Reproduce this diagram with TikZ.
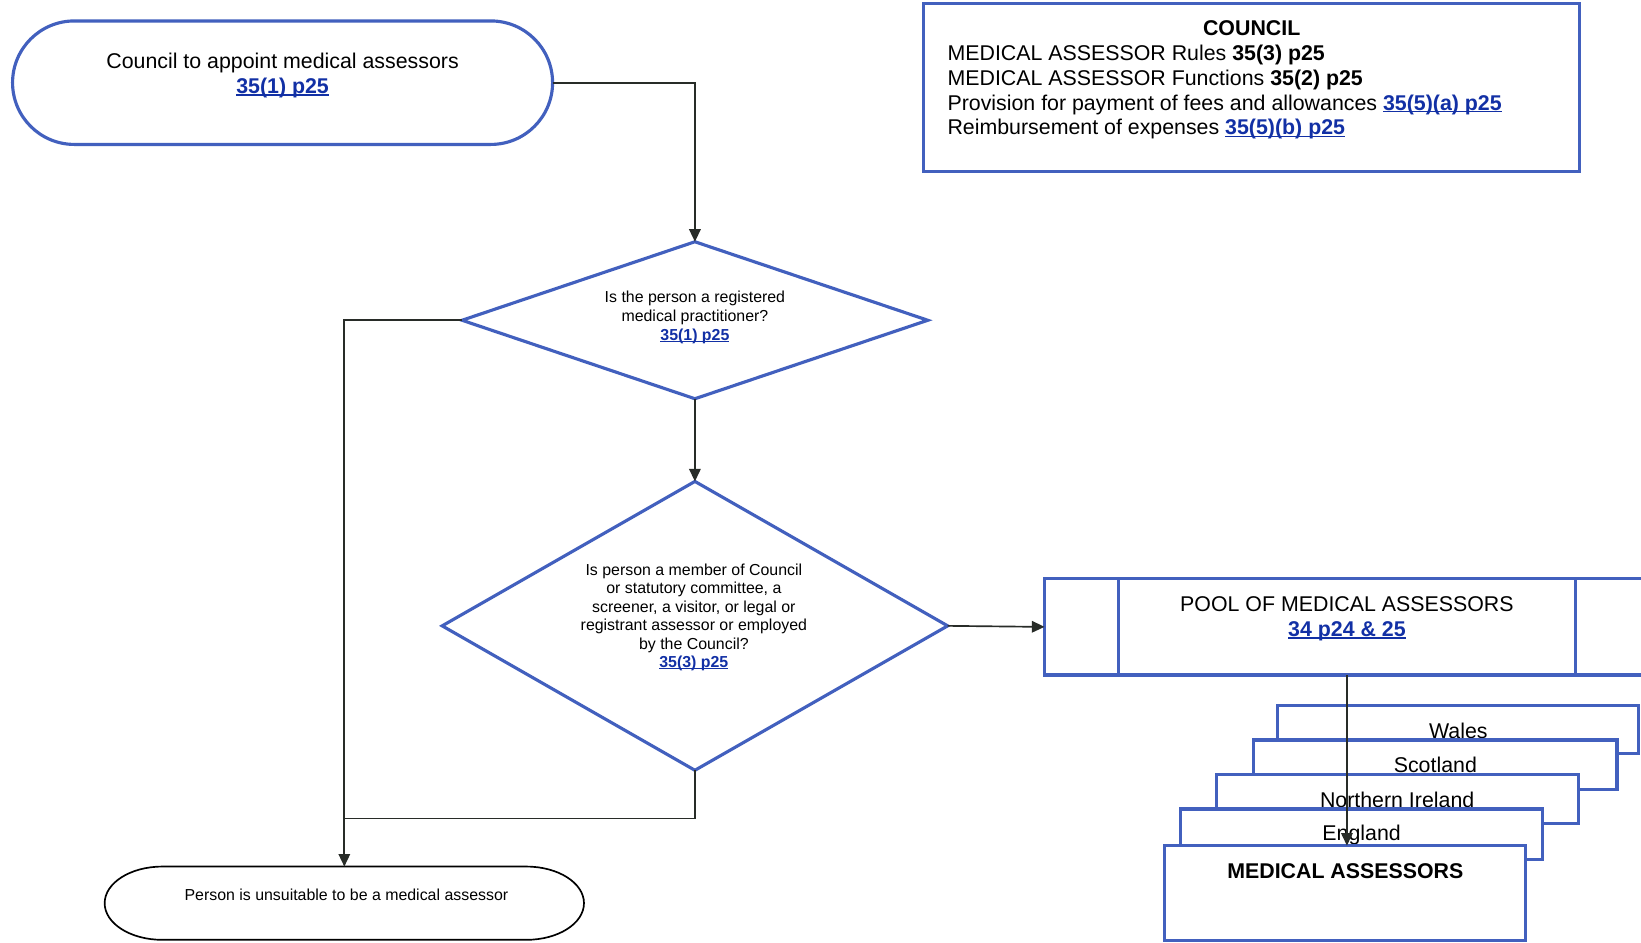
\documentclass[tikz,border=0pt]{standalone}
\usepackage{fontspec}
\setmainfont{Liberation Sans}
\usetikzlibrary{shapes.geometric,shapes.misc,calc,arrows.meta}

\definecolor{shapeblue}{RGB}{66,96,190}
\definecolor{linkblue}{RGB}{18,48,165}
\definecolor{wire}{RGB}{40,44,40}

% bold cross-reference to a section of the rules, underlined close to the baseline
\newcommand\reflink[1]{\textcolor{linkblue}{\bfseries
  \setbox0=\hbox{#1}\rlap{\rule[-0.11em]{\wd0}{0.075em}}\box0}}

\tikzset{
  px/.style={x=0.5pt,y=-0.5pt},
  bigtext/.style={font=\fontsize{10.2}{12}\selectfont, inner sep=0pt, align=center},
  smalltext/.style={font=\fontsize{7.6}{9}\selectfont, inner sep=0pt, align=center},
  blueline/.style={draw=shapeblue, line width=1.5pt},
  terminal/.style={rounded rectangle, blueline, fill=white, inner sep=0pt, outer sep=0pt},
  decision/.style={diamond, blueline, fill=white, inner sep=0pt, outer sep=0pt},
  panel/.style={rectangle, blueline, fill=white, inner sep=0pt, outer sep=0pt},
  endline/.style={draw=black, line width=0.8pt, fill=white},
  flow/.style={draw=wire, line width=0.8pt},
  arrowflow/.style={flow, -{Triangle[length=6pt,width=5.5pt]}},
}

\begin{document}
\begin{tikzpicture}[px]
\useasboundingbox (0,0) rectangle (1568,901);
\fill[white] (0,0) rectangle (1568,901);
\clip (0,0) rectangle (1568,901);

% start
\node[terminal, minimum width=258pt, minimum height=59pt] (start) at (270,79) {};
\node[bigtext] (startlabel) at (270,72) {Council to appoint medical assessors\\ \reflink{35(1) p25}};

% council responsibilities
\node[panel, minimum width=313.5pt, minimum height=80.5pt] (council) at (1195.5,83.5) {};
\node[bigtext, font=\fontsize{10.2}{12}\selectfont\bfseries] (counciltitle) at (1196,27) {COUNCIL};
\node[bigtext, align=left, anchor=west, font=\fontsize{10.2}{11.85}\selectfont] (councilitems) at (905,88) {%
  MEDICAL ASSESSOR Rules \textbf{35(3) p25}\\
  MEDICAL ASSESSOR Functions \textbf{35(2) p25}\\
  Provision for payment of fees and allowances \reflink{35(5)(a) p25}\\
  Reimbursement of expenses \reflink{35(5)(b) p25}};

% decisions
\node[decision, minimum width=222.5pt, minimum height=75pt] (registered) at (664,306) {};
\node[smalltext] (registeredlabel) at (664,303) {Is the person a registered\\ medical practitioner?\\ \reflink{35(1) p25}};

\node[decision, minimum width=241.5pt, minimum height=138pt] (conflict) at (664,598) {};
\node[smalltext, font=\fontsize{7.6}{8.8}\selectfont] (conflictlabel) at (663,590) {Is person a member of Council\\ or statutory committee, a\\ screener, a visitor, or legal or\\ registrant assessor or employed\\ by the Council?\\ \reflink{35(3) p25}};

% pool
\node[panel, minimum width=289pt, minimum height=46pt] (pool) at (1287,599) {};
\draw[blueline] ($(pool.north west)+(71,0)$) -- ($(pool.south west)+(71,0)$);
\draw[blueline] ($(pool.north east)+(-71,0)$) -- ($(pool.south east)+(-71,0)$);
\node[bigtext] (poollabel) at (1287,591) {POOL OF MEDICAL ASSESSORS\\ \reflink{34 p24 \& 25}};

% stacked national lists
\node[panel, anchor=north west, minimum width=172.5pt, minimum height=23pt] (wales) at (1221,674) {};
\node[bigtext] (waleslabel) at ($(wales.north)+(0,24)$) {Wales};
\node[panel, anchor=north west, minimum width=173.5pt, minimum height=23.5pt] (scotland) at (1198,707) {};
\node[bigtext] (scotlandlabel) at ($(scotland.north)+(0,24)$) {Scotland};
\node[panel, anchor=north west, minimum width=173pt, minimum height=23.5pt] (nireland) at (1162,740) {};
\node[bigtext] (nirelandlabel) at ($(nireland.north)+(0,24)$) {Northern Ireland};
\node[panel, anchor=north west, minimum width=173pt, minimum height=24pt] (england) at (1128,773) {};
\node[bigtext] (englandlabel) at ($(england.north)+(0,25)$) {England};
\node[panel, anchor=north west, minimum width=172.5pt, minimum height=45.5pt] (assessors) at (1113,808) {};
\node[bigtext, font=\fontsize{10.2}{12}\selectfont\bfseries] (assessorslabel) at ($(assessors.north)+(0,24)$) {MEDICAL ASSESSORS};

% end: elongated outline with half-elliptic ends
\node[rectangle, inner sep=0pt, outer sep=0pt, minimum width=229pt, minimum height=35pt] (unsuitable) at (329,863) {};
\draw[endline] ($(unsuitable.north west)+(55,0)$) -- ($(unsuitable.north east)+(-55,0)$)
  arc[start angle=90, end angle=-90, x radius=27.5pt, y radius=17.5pt]
  -- ($(unsuitable.south west)+(55,0)$)
  arc[start angle=270, end angle=90, x radius=27.5pt, y radius=17.5pt] -- cycle;
\node[smalltext] (unsuitablelabel) at (331,855) {Person is unsuitable to be a medical assessor};

% connectors
\coordinate (merge) at (unsuitable.north |- 0,782);
\draw[arrowflow] (start.east) -| (registered.north);
\draw[arrowflow] (registered.south) -- (conflict.north);
\draw[arrowflow] (conflict.east) -- (pool.west);
\draw[arrowflow] (registered.west) -| (unsuitable.north);
\draw[flow] (conflict.south) |- (merge);
\draw[arrowflow] (pool.south) -- (pool.south |- assessors.north);
\end{tikzpicture}
\end{document}
